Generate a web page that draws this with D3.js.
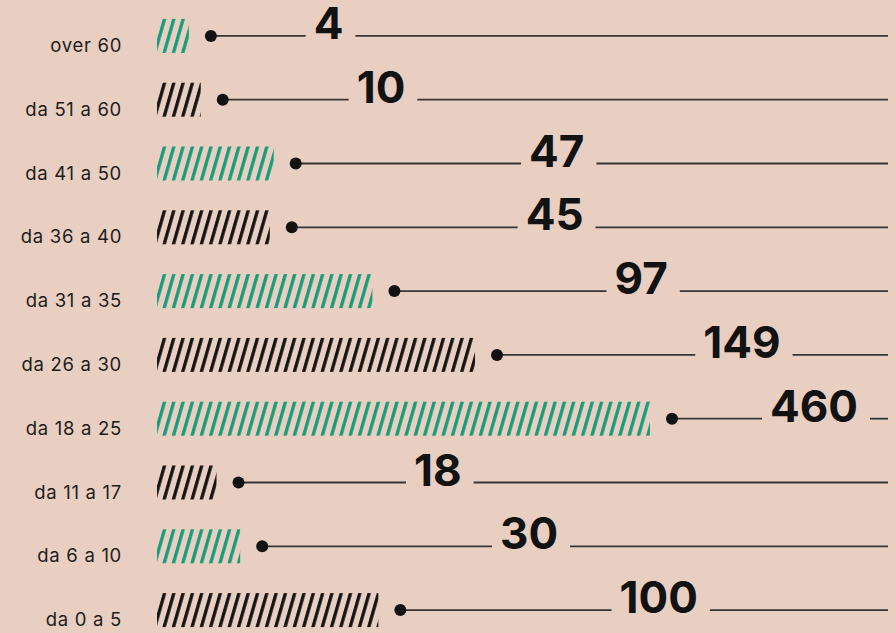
<!DOCTYPE html>
<html>
<head>
<meta charset="utf-8">
<script src="https://cdn.jsdelivr.net/npm/d3@7"></script>
<style>
  html, body { margin: 0; padding: 0; background: #e8cfc1; }
  svg { display: block; }
</style>
</head>
<body>
<svg id="chart" width="896" height="633"></svg>
<script>
const width = 896,
height = 633;

// age bands, top to bottom
const categories = ["over 60", "da 51 a 60", "da 41 a 50", "da 36 a 40", "da 31 a 35",
  "da 26 a 30", "da 18 a 25", "da 11 a 17", "da 6 a 10", "da 0 a 5"];
const values = [4, 10, 47, 45, 97, 149, 460, 18, 30, 100];

const green = "#149c79",
black = "#121212",
lineColor = "#383434";

const svg = d3.select("#chart");

// hatch patterns
const defs = svg.append("defs");
[["hatch-green", green], ["hatch-black", black]].forEach(function(p){
  const pat = defs.append("pattern")
    .attr("id", p[0])
    .attr("patternUnits", "userSpaceOnUse")
    .attr("width", 9.3)
    .attr("height", 40)
    .attr("patternTransform", "translate(157,0) skewX(-16)");
  pat.append("rect")
    .attr("x", 1).attr("y", 0)
    .attr("width", 3.4).attr("height", 40)
    .attr("fill", p[1]);
});

const y = d3.scaleBand()
  .domain(categories)
  .range([4, 642]);

const barX0 = 157;

// bar length (compressed above 150)
const barW = d3.scaleLinear()
  .domain([0, 150, 460])
  .range([24, 320, 493]);

// where the number sits along the row
const labelX = d3.scaleLinear()
  .domain([0, 30, 150, 460])
  .range([285, 500, 705, 770]);

const rows = svg.selectAll(".row")
  .data(categories.map(function(c, i){ return { cat: c, value: values[i], i: i }; }))
  .join("g")
  .attr("class", "row")
  .attr("transform", d => "translate(0," + (y(d.cat) + y.bandwidth() / 2) + ")");

// category labels
rows.append("text")
  .attr("x", 122)
  .attr("y", 16)
  .attr("text-anchor", "end")
  .attr("font-family", "Inter, 'Noto Sans', sans-serif")
  .attr("font-size", 18.5)
  .attr("letter-spacing", 0.7)
  .attr("fill", "#1e1c1c")
  .text(d => d.cat);

// hatched bars
rows.append("rect")
  .attr("x", barX0)
  .attr("y", -17)
  .attr("width", d => barW(d.value))
  .attr("height", 34)
  .attr("fill", d => d.i % 2 == 0 ? "url(#hatch-green)" : "url(#hatch-black)");

rows.each(function(d){
  const g = d3.select(this);
  const dotX = barX0 + barW(d.value) + 22;

  const num = g.append("text")
    .attr("y", 3)
    .attr("font-family", "Inter, 'DejaVu Sans', sans-serif")
    .attr("font-weight", 700)
    .attr("font-size", 44)
    .attr("fill", black)
    .text(d.value);

  const lx = Math.max(labelX(d.value), dotX + 95);
  num.attr("x", lx);
  const tw = num.node().getComputedTextLength();

  g.append("line")
    .attr("x1", dotX).attr("x2", lx - 8)
    .attr("y1", 0).attr("y2", 0)
    .attr("stroke", lineColor)
    .attr("stroke-width", 1.8);

  g.append("line")
    .attr("x1", lx + tw + 12).attr("x2", 888)
    .attr("y1", 0).attr("y2", 0)
    .attr("stroke", lineColor)
    .attr("stroke-width", 1.8);

  g.append("circle")
    .attr("cx", dotX)
    .attr("cy", 0)
    .attr("r", 6)
    .attr("fill", black);
});
</script>
</body>
</html>
